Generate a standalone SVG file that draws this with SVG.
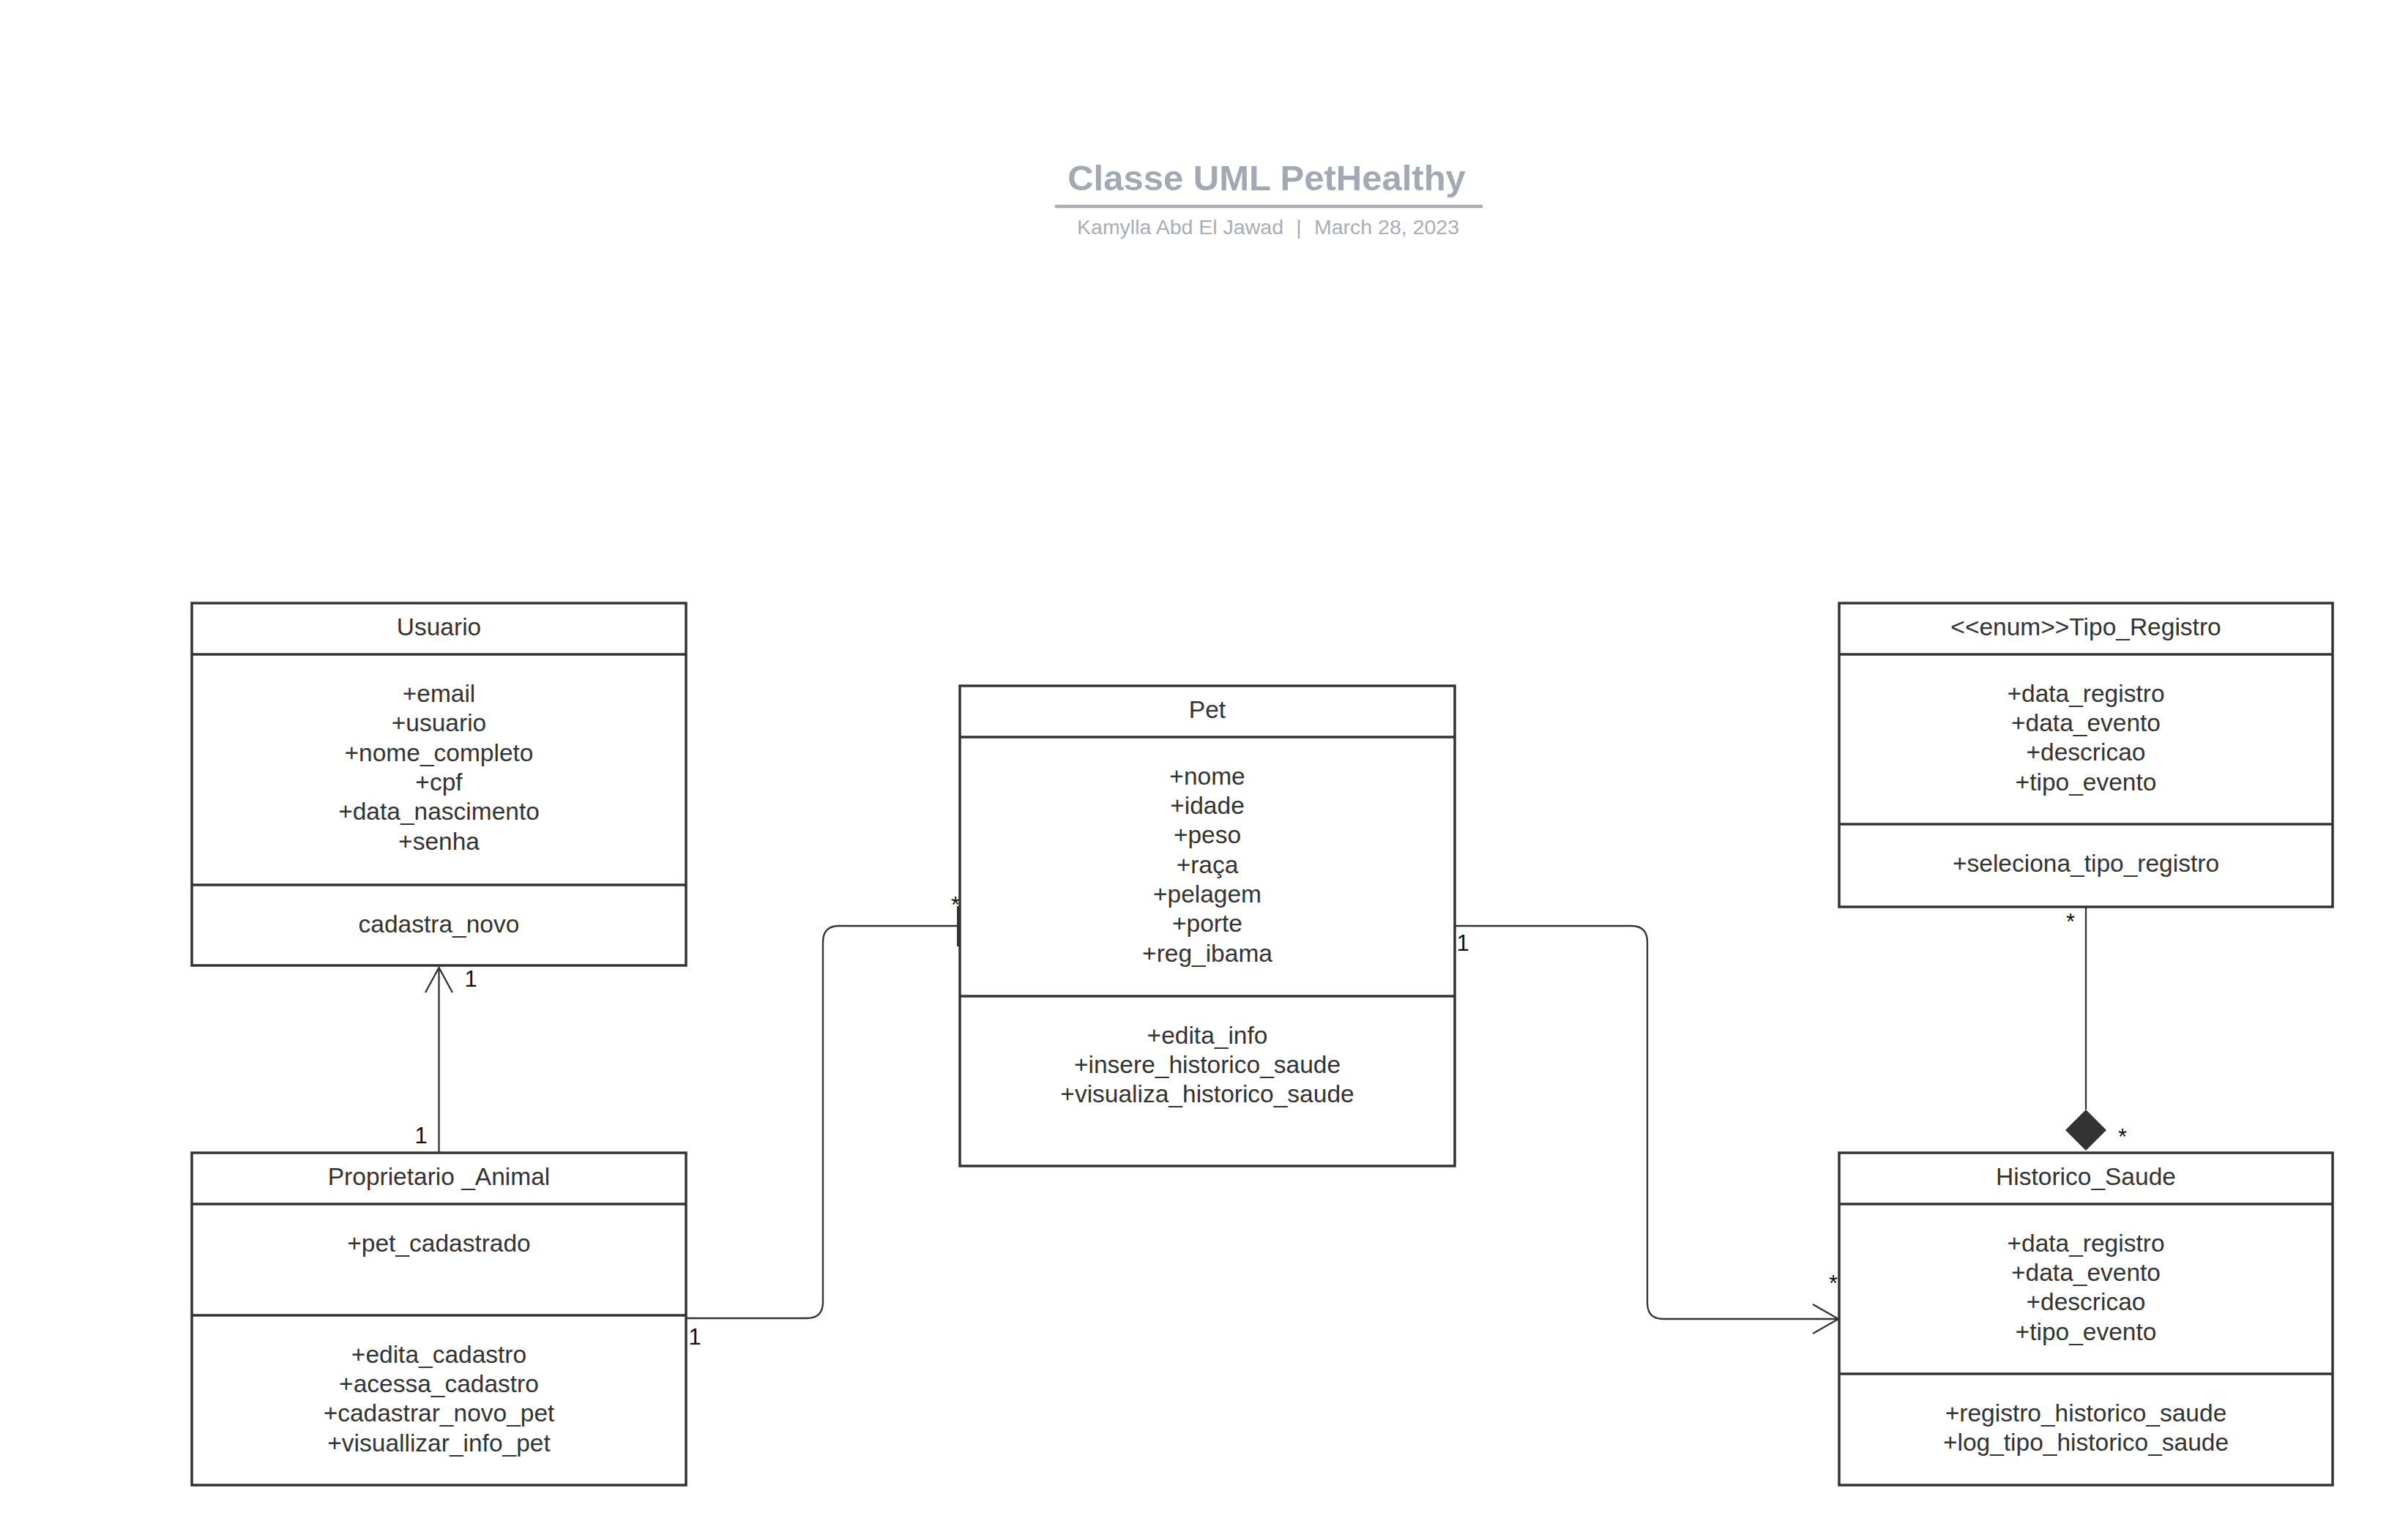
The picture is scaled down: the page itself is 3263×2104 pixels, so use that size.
<svg xmlns="http://www.w3.org/2000/svg" width="3263" height="2104" viewBox="0 0 3263 2104">
<style>
.box{fill:#ffffff;stroke:#333333;stroke-width:3.5}
.div{stroke:#333333;stroke-width:3.5}
.t{font-family:"Liberation Sans",Arial,sans-serif;font-size:33.5px;fill:#333333;text-anchor:middle}
.lbl{font-family:"Liberation Sans",Arial,sans-serif;font-size:31px;fill:#111111;text-anchor:middle}
.conn{fill:none;stroke:#333333;stroke-width:2.3}
.sub{font-family:"Liberation Sans",Arial,sans-serif;font-size:28.5px;fill:#a9adb5}
</style>
<rect width="3263" height="2104" fill="#ffffff"/>
<g id="title">
<text x="1730" y="260" font-family="Liberation Sans, Arial, sans-serif" font-size="49" font-weight="bold" fill="#a3a9b2" text-anchor="middle">Classe UML PetHealthy</text>
<line x1="1441" y1="282" x2="2025" y2="282" stroke="#a8adb5" stroke-width="4.5"/>
<text class="sub" x="1753" y="320" text-anchor="end">Kamylla Abd El Jawad</text>
<text class="sub" x="1774" y="320" text-anchor="middle">|</text>
<text class="sub" x="1795" y="320">March 28, 2023</text>
</g>
<g id="connectors">
<path class="conn" d="M599.5,1575 V1322"/>
<polyline class="conn" points="581,1356 599.5,1322 618,1356"/>
<path class="conn" d="M937,1801 H1102 Q1124,1801 1124,1779 V1287 Q1124,1265 1146,1265 H1311"/>
<rect x="1307" y="1238" width="3.5" height="55" fill="#333333"/>
<path class="conn" d="M1987,1265 H2228 Q2250,1265 2250,1287 V1780 Q2250,1802 2272,1802 H2511"/>
<polyline class="conn" points="2476,1782 2511,1802 2476,1822"/>
<path class="conn" d="M2849,1239 V1516"/>
<polygon points="2849,1516 2877,1544 2849,1572 2821,1544" fill="#333333"/>
<text class="lbl" x="643" y="1348">1</text>
<text class="lbl" x="575" y="1562">1</text>
<text class="lbl" x="949" y="1837">1</text>
<text class="lbl" x="1305" y="1247">*</text>
<text class="lbl" x="1998" y="1299">1</text>
<text class="lbl" x="2504" y="1764">*</text>
<text class="lbl" x="2828" y="1270">*</text>
<text class="lbl" x="2899" y="1564">*</text>
</g>
<g id="usuario">
<rect class="box" x="262" y="824" width="675" height="495"/>
<line class="div" x1="262" y1="894" x2="937" y2="894"/>
<line class="div" x1="262" y1="1209" x2="937" y2="1209"/>
<text class="t" x="599.5" y="868">Usuario</text>
<text class="t" x="599.5" y="959">+email</text>
<text class="t" x="599.5" y="999">+usuario</text>
<text class="t" x="599.5" y="1039.5">+nome_completo</text>
<text class="t" x="599.5" y="1080">+cpf</text>
<text class="t" x="599.5" y="1120">+data_nascimento</text>
<text class="t" x="599.5" y="1160.5">+senha</text>
<text class="t" x="599.5" y="1273.5">cadastra_novo</text>
</g>
<g id="pet">
<rect class="box" x="1311" y="937" width="676" height="656"/>
<line class="div" x1="1311" y1="1007" x2="1987" y2="1007"/>
<line class="div" x1="1311" y1="1361" x2="1987" y2="1361"/>
<text class="t" x="1649" y="981">Pet</text>
<text class="t" x="1649" y="1071.5">+nome</text>
<text class="t" x="1649" y="1112">+idade</text>
<text class="t" x="1649" y="1152">+peso</text>
<text class="t" x="1649" y="1192.5">+raça</text>
<text class="t" x="1649" y="1233">+pelagem</text>
<text class="t" x="1649" y="1273">+porte</text>
<text class="t" x="1649" y="1313.5">+reg_ibama</text>
<text class="t" x="1649" y="1425.5">+edita_info</text>
<text class="t" x="1649" y="1466">+insere_historico_saude</text>
<text class="t" x="1649" y="1506">+visualiza_historico_saude</text>
</g>
<g id="tipo_registro">
<rect class="box" x="2512" y="824" width="674" height="415"/>
<line class="div" x1="2512" y1="894" x2="3186" y2="894"/>
<line class="div" x1="2512" y1="1126" x2="3186" y2="1126"/>
<text class="t" x="2849" y="868">&lt;&lt;enum&gt;&gt;Tipo_Registro</text>
<text class="t" x="2849" y="958.5">+data_registro</text>
<text class="t" x="2849" y="999">+data_evento</text>
<text class="t" x="2849" y="1039">+descricao</text>
<text class="t" x="2849" y="1079.5">+tipo_evento</text>
<text class="t" x="2849" y="1191">+seleciona_tipo_registro</text>
</g>
<g id="proprietario_animal">
<rect class="box" x="262" y="1575" width="675" height="454"/>
<line class="div" x1="262" y1="1645" x2="937" y2="1645"/>
<line class="div" x1="262" y1="1797" x2="937" y2="1797"/>
<text class="t" x="599.5" y="1619">Proprietario _Animal</text>
<text class="t" x="599.5" y="1709.5">+pet_cadastrado</text>
<text class="t" x="599.5" y="1861.5">+edita_cadastro</text>
<text class="t" x="599.5" y="1902">+acessa_cadastro</text>
<text class="t" x="599.5" y="1942">+cadastrar_novo_pet</text>
<text class="t" x="599.5" y="1982.5">+visuallizar_info_pet</text>
</g>
<g id="historico_saude">
<rect class="box" x="2512" y="1575" width="674" height="454"/>
<line class="div" x1="2512" y1="1645" x2="3186" y2="1645"/>
<line class="div" x1="2512" y1="1877" x2="3186" y2="1877"/>
<text class="t" x="2849" y="1619">Historico_Saude</text>
<text class="t" x="2849" y="1709.5">+data_registro</text>
<text class="t" x="2849" y="1750">+data_evento</text>
<text class="t" x="2849" y="1790">+descricao</text>
<text class="t" x="2849" y="1830.5">+tipo_evento</text>
<text class="t" x="2849" y="1941.5">+registro_historico_saude</text>
<text class="t" x="2849" y="1982">+log_tipo_historico_saude</text>
</g>
</svg>
